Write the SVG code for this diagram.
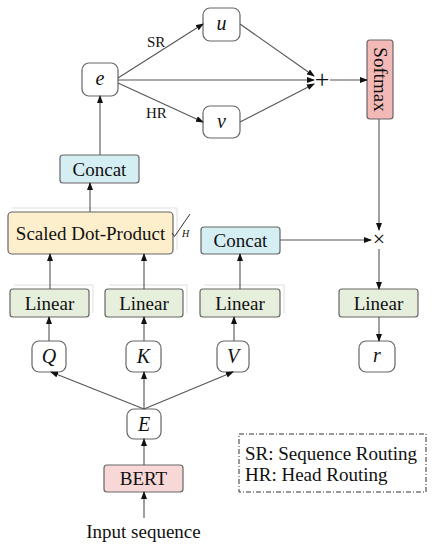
<svg xmlns="http://www.w3.org/2000/svg" width="438" height="550" viewBox="0 0 438 550">
<defs>
<marker id="ah" markerWidth="8" markerHeight="6" refX="7" refY="3" orient="auto" markerUnits="userSpaceOnUse">
<path d="M0,0 L8,3 L0,6 z" fill="#111"/>
</marker>
<style>
.box{stroke:#666;stroke-width:1.2}
.var{fill:#fff}
.lin{fill:#e6eedc}
.cat{fill:#d5eef3}
.sdp{fill:#fdefcc}
.bert{fill:#f8d8d6}
.soft{fill:#f2b9b6}
.ghost{fill:none;stroke:#ddd;stroke-width:1}
text{font-family:"Liberation Serif","DejaVu Serif",serif;fill:#111}
.t{font-size:19px;text-anchor:middle}
.m{font-size:20px;font-style:italic;text-anchor:middle}
.s{font-size:15px}
.l{font-size:19px}
.c line,.c path{stroke:#555;stroke-width:1.1;fill:none}
.a{marker-end:url(#ah)}
</style>
</defs>
<rect width="438" height="550" fill="#fff"/>

<g id="u"><rect class="box var" x="203" y="8" width="37" height="33" rx="7"/><text class="m" x="221.5" y="30">u</text></g>
<g id="v"><rect class="box var" x="203" y="106" width="37" height="32" rx="7"/><text class="m" x="221.5" y="128">v</text></g>
<g id="e"><rect class="box var" x="82" y="63" width="36" height="33" rx="7"/><text class="m" x="100" y="85">e</text></g>
<g id="plus"><text x="322" y="88" font-size="26" text-anchor="middle">+</text></g>
<g id="softmax"><rect class="box soft" x="367" y="40" width="26" height="79" rx="3"/><text class="t" transform="translate(373.5,79.5) rotate(90)">Softmax</text></g>
<g id="times"><text x="379" y="246" font-size="22" text-anchor="middle">×</text></g>
<g id="concat1"><rect class="box cat" x="60" y="155" width="79" height="28" rx="3"/><text class="t" x="99.5" y="175.5">Concat</text></g>
<g id="sdp">
<path class="ghost" d="M12,208 H177 V250"/>
<rect class="box sdp" x="8" y="212" width="165" height="42" rx="4"/><text class="t" x="90.5" y="239.5">Scaled Dot-Product</text>
<path d="M172,233 L174.5,236.5 L190,214" stroke="#333" stroke-width="1" fill="none"/>
<text x="182" y="237" font-size="10" font-style="italic" font-family="Liberation Sans,sans-serif">H</text>
</g>
<g id="concat2"><rect class="box cat" x="201" y="227" width="79" height="27" rx="3"/><text class="t" x="240.5" y="247">Concat</text></g>
<g id="linq"><path class="ghost" d="M14,285 H93 V313"/><rect class="box lin" x="10" y="289" width="79" height="28" rx="3"/><text class="t" x="49.5" y="309.5">Linear</text></g>
<g id="link"><path class="ghost" d="M109,285 H187 V313"/><rect class="box lin" x="105" y="289" width="78" height="28" rx="3"/><text class="t" x="144" y="309.5">Linear</text></g>
<g id="linv"><path class="ghost" d="M204,285 H284 V313"/><rect class="box lin" x="200" y="289" width="80" height="28" rx="3"/><text class="t" x="240" y="309.5">Linear</text></g>
<g id="linr"><rect class="box lin" x="339" y="289" width="79" height="28" rx="3"/><text class="t" x="378.5" y="309.5">Linear</text></g>
<g id="q"><rect class="box var" x="32" y="341" width="34" height="31" rx="7"/><text class="m" x="49" y="363">Q</text></g>
<g id="k"><rect class="box var" x="126" y="341" width="35" height="31" rx="7"/><text class="m" x="143.5" y="363">K</text></g>
<g id="vv"><rect class="box var" x="217" y="341" width="32" height="31" rx="7"/><text class="m" x="233" y="363">V</text></g>
<g id="r"><rect class="box var" x="359" y="341" width="36" height="31" rx="7"/><text class="m" x="377" y="362">r</text></g>
<g id="E"><rect class="box var" x="127" y="409" width="34" height="30" rx="7"/><text class="m" x="144" y="431">E</text></g>
<g id="bert"><rect class="box bert" x="104" y="465" width="79" height="27" rx="3"/><text class="t" x="143.5" y="485">BERT</text></g>
<g id="input"><text class="t" x="143.5" y="538">Input sequence</text></g>
<g id="legend">
<rect x="239" y="434" width="187" height="58" fill="none" stroke="#333" stroke-width="1" stroke-dasharray="5,2,1,2"/>
<text class="l" x="245" y="460">SR: Sequence Routing</text>
<text class="l" x="245" y="481">HR: Head Routing</text>
</g>

<g id="connectors" class="c">
<line class="a" x1="118" y1="78" x2="203" y2="24"/>
<line class="a" x1="118" y1="83" x2="203" y2="122"/>
<line class="a" x1="118" y1="80" x2="314" y2="80"/>
<line class="a" x1="240" y1="24" x2="314" y2="76"/>
<line class="a" x1="240" y1="122" x2="314" y2="84"/>
<line class="a" x1="330" y1="80" x2="367" y2="80"/>
<line class="a" x1="379" y1="119" x2="379" y2="230"/>
<line class="a" x1="280" y1="240" x2="371" y2="240"/>
<line class="a" x1="379" y1="249" x2="379" y2="289"/>
<line class="a" x1="379" y1="317" x2="379" y2="341"/>
<line class="a" x1="100" y1="155" x2="100" y2="96"/>
<line class="a" x1="90" y1="212" x2="90" y2="183"/>
<line class="a" x1="50" y1="289" x2="50" y2="254"/>
<line class="a" x1="144" y1="289" x2="144" y2="254"/>
<line class="a" x1="240" y1="289" x2="240" y2="254"/>
<line class="a" x1="49" y1="341" x2="49" y2="317"/>
<line class="a" x1="144" y1="341" x2="144" y2="317"/>
<line class="a" x1="234" y1="341" x2="234" y2="317"/>
<line class="a" x1="144" y1="409" x2="51" y2="372"/>
<line class="a" x1="144" y1="409" x2="144" y2="372"/>
<line class="a" x1="144" y1="409" x2="233" y2="372"/>
<line class="a" x1="144" y1="465" x2="144" y2="439"/>
<line class="a" x1="144" y1="518" x2="144" y2="492"/>
</g>
<g id="labels">
<text class="s" x="147" y="47">SR</text>
<text class="s" x="146" y="118">HR</text>
</g>
</svg>
